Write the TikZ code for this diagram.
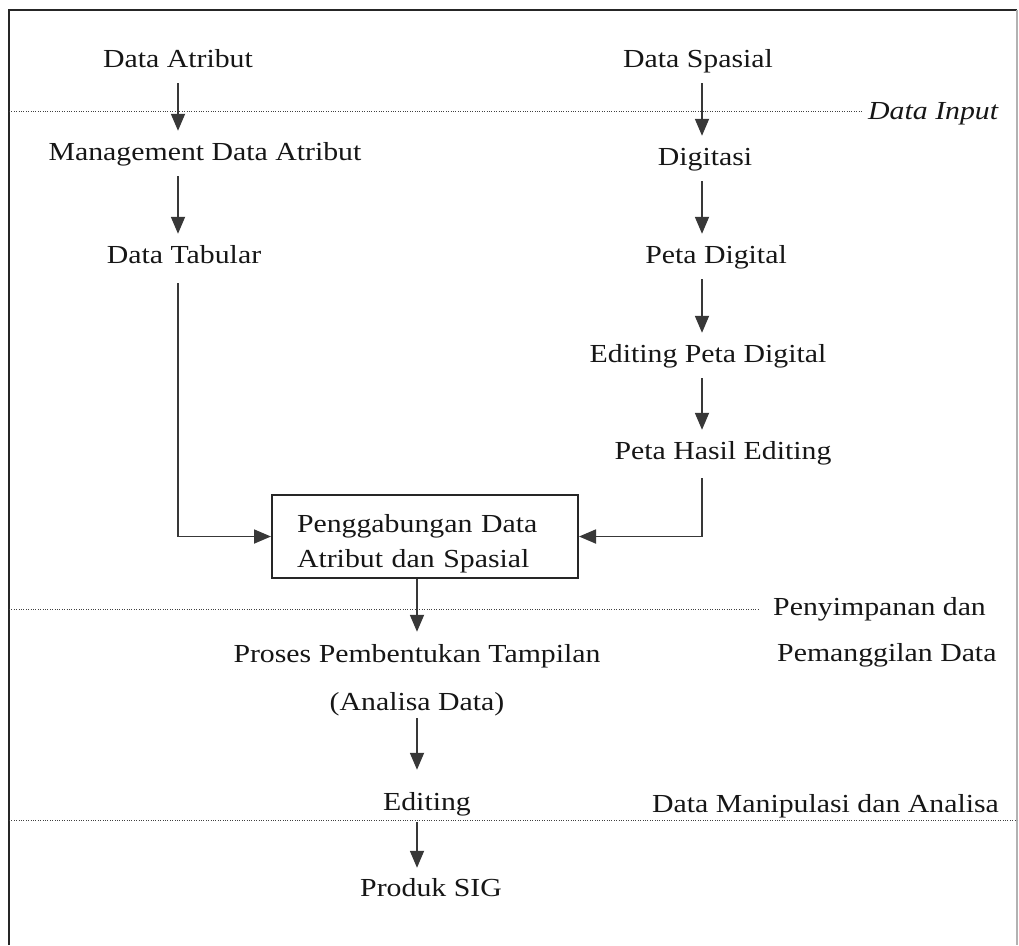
\documentclass[tikz,border=0pt]{standalone}
\usepackage{fontspec}
\setmainfont{Liberation Serif}[FakeStretch=1.146]
\usetikzlibrary{arrows.meta,calc}

\definecolor{ink}{HTML}{161616}
\definecolor{arrowgray}{HTML}{383838}

\tikzset{
  lbl/.style={inner sep=0pt, text height=17pt, text depth=5pt, anchor=base, text=ink},
  sidelbl/.style={inner sep=0pt, anchor=base west, text=ink},
  flow/.style={draw=arrowgray, line width=1.8pt,
    -{Triangle[length=17pt,width=14pt]}, shorten <=11pt, shorten >=12pt},
  sep/.style={draw=black!75, line width=1pt, dash pattern=on 1pt off 1.4pt},
  frameline/.style={draw=black!85, line width=2pt},
  mergebox/.style={draw=black!85, line width=2pt, align=left, text width=256pt,
    inner xsep=25pt, inner ysep=0pt, minimum height=83pt, text=ink},
}

\begin{document}
\begin{tikzpicture}[x=1pt, y=-1pt, font=\fontsize{26}{35}\selectfont]
\useasboundingbox (0,0) rectangle (1019,945);

% outer frame (bottom edge runs off the page)
\draw[frameline] (9,945) -- (9,10) -- (1017,10);
\draw[draw=black!30, line width=1.5pt] (1017,10) -- (1017,945);

% stage separators
\draw[sep] (9,111) -- (863,111);
\draw[sep] (9,609) -- (760,609);
\draw[sep] (9,820) -- (1017,820);

% stage labels
\node[sidelbl] (stgin) at (868,119) {\itshape Data Input};
\node[sidelbl] (stgstore1) at (773,615) {Penyimpanan dan};
\node[sidelbl] (stgstore2) at (777,661) {Pemanggilan Data};
\node[sidelbl] (stgmanip) at (652,812) {Data Manipulasi dan Analisa};

% column guides
\coordinate (lcol) at (178,0);
\coordinate (rcol) at (702,0);
\coordinate (ccol) at (417,0);

% attribute branch
\node[lbl] (atr)  at (178,67)  {Data Atribut};
\node[lbl] (mgmt) at (205,160) {Management Data Atribut};
\node[lbl] (tab)  at (184,263) {Data Tabular};

% spatial branch
\node[lbl] (spa)  at (698,67)  {Data Spasial};
\node[lbl] (dig)  at (705,165) {Digitasi};
\node[lbl] (pdig) at (716,263) {Peta Digital};
\node[lbl] (edpd) at (708,362) {Editing Peta Digital};
\node[lbl] (phe)  at (723,459) {Peta Hasil Editing};

% merge step
\node[mergebox] (merge) at (425,536.5)
  {\rule{0pt}{31.8pt}Penggabungan Data\\Atribut dan Spasial};

% output chain
\node[lbl] (proses)  at (417,662) {Proses Pembentukan Tampilan};
\node[lbl] (analisa) at (417,710) {(Analisa Data)};
\node[lbl] (edit)    at (427,810) {Editing};
\node[lbl] (produk)  at (431,896) {Produk SIG};

% arrows, attribute branch
\draw[flow] (atr.south -| lcol) -- (mgmt.north -| lcol);
\draw[flow] (mgmt.south -| lcol) -- (tab.north -| lcol);
\draw[flow, shorten <=15pt, shorten >=0pt] (tab.south -| lcol) |- (merge.west);

% arrows, spatial branch
\draw[flow] (spa.south -| rcol) -- (dig.north -| rcol);
\draw[flow] (dig.south -| rcol) -- (pdig.north -| rcol);
\draw[flow] (pdig.south -| rcol) -- (edpd.north -| rcol);
\draw[flow] (edpd.south -| rcol) -- (phe.north -| rcol);
\draw[flow, shorten <=14pt, shorten >=0pt] (phe.south -| rcol) |- (merge.east);

% arrows, output chain
\draw[flow, shorten <=0pt, shorten >=13pt] (merge.south -| ccol) -- (proses.north -| ccol);
\draw[flow, shorten <=3pt, shorten >=23pt] (analisa.south -| ccol) -- (edit.north -| ccol);
\draw[flow, shorten <=7pt, shorten >=11pt] (edit.south -| ccol) -- (produk.north -| ccol);
\end{tikzpicture}
\end{document}
